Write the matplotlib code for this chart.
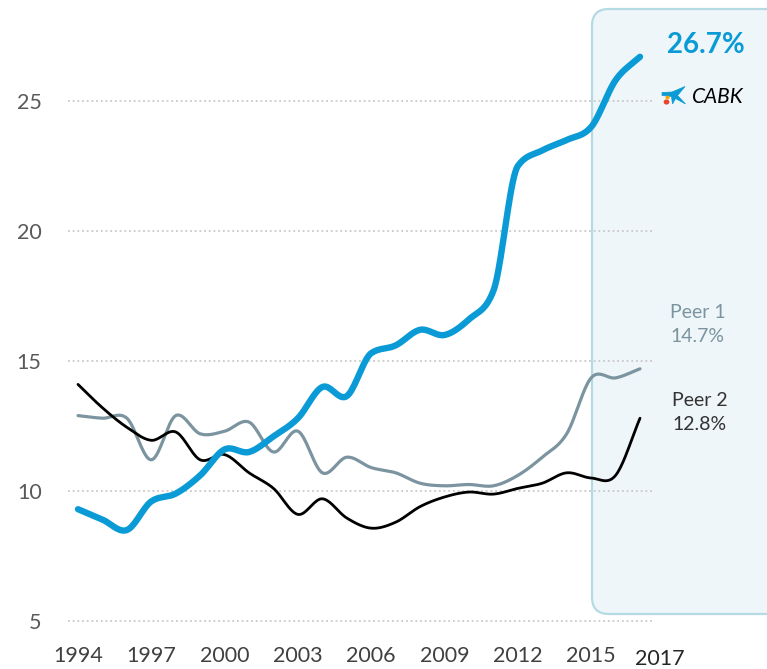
import numpy as np
import matplotlib
matplotlib.use("Agg")
import matplotlib.pyplot as plt
from matplotlib.patches import FancyBboxPatch, Circle, Polygon
from matplotlib.transforms import ScaledTranslation

plt.rcParams['font.family'] = ['Lato', 'DejaVu Sans']

years = list(range(1994, 2018))
cabk = [9.3, 8.9, 8.5, 9.6, 9.9, 10.6, 11.6, 11.5, 12.1, 12.8, 14.0, 13.65,
        15.3, 15.6, 16.2, 16.0, 16.6, 17.7, 22.5, 23.1, 23.5, 24.0, 25.8, 26.7]
peer1 = [12.9, 12.8, 12.8, 11.2, 12.9, 12.2, 12.3, 12.65, 11.5, 12.3, 10.7, 11.3,
         10.9, 10.7, 10.3, 10.2, 10.25, 10.2, 10.6, 11.3, 12.2, 14.35, 14.35, 14.7]
peer2 = [14.1, 13.2, 12.45, 11.95, 12.27, 11.2, 11.4, 10.7, 10.1, 9.1, 9.7, 8.96,
         8.57, 8.8, 9.4, 9.77, 9.96, 9.88, 10.1, 10.3, 10.7, 10.5, 10.6, 12.8]
yticks = [5, 10, 15, 20, 25]
xticks = [1994, 1997, 2000, 2003, 2006, 2009, 2012, 2015]
last_label = "2017"

BLUE = '#0A9BD6'
GREY = '#7B949F'


def smooth(x, y, n=20, limit=False):
    x = np.asarray(x, float)
    y = np.asarray(y, float)
    d = np.diff(y)
    m = np.zeros_like(y)
    m[1:-1] = (y[2:] - y[:-2]) / 2.0
    m[0] = d[0]
    m[-1] = d[-1]
    if limit:
        for i in range(1, len(y) - 1):
            if d[i - 1] * d[i] > 0:
                lim = 2.2 * min(abs(d[i - 1]), abs(d[i]))
                if abs(m[i]) > lim:
                    m[i] = np.sign(m[i]) * lim
    xs, ys = [], []
    for i in range(len(x) - 1):
        t = np.linspace(0, 1, n, endpoint=False)
        h00 = 2 * t**3 - 3 * t**2 + 1
        h10 = t**3 - 2 * t**2 + t
        h01 = -2 * t**3 + 3 * t**2
        h11 = t**3 - t**2
        xs.append(x[i] + t * (x[i + 1] - x[i]))
        ys.append(h00 * y[i] + h10 * m[i] + h01 * y[i + 1] + h11 * m[i + 1])
    xs.append([x[-1]])
    ys.append([y[-1]])
    return np.concatenate(xs), np.concatenate(ys)


W, H = 767, 669
fig = plt.figure(figsize=(W / 100, H / 100), dpi=100)


def fx(px):
    return px / W


def fy(py):
    return 1 - py / H


# shaded box
box = FancyBboxPatch((fx(592), fy(614)), fx(767 + 30) - fx(592), fy(9) - fy(614),
                     boxstyle="round,pad=0,rounding_size=0.022",
                     transform=fig.transFigure, facecolor='#EEF6F9',
                     edgecolor='#B5DAE4', linewidth=1.6, zorder=-5,
                     mutation_aspect=W / H)
fig.patches.append(box)

left, right = 68, 652
ax = fig.add_axes([fx(left), fy(642), fx(right) - fx(left), fy(0) - fy(642)])
ax.patch.set_visible(False)
ppy = (640 - 78) / 23.0
ax.set_xlim(1994 - (78 - left) / ppy, 2017 + (right - 640) / ppy)
ax.set_ylim(5 - (642 - 621) / 26.0, 5 + 621 / 26.0)

for v in yticks:
    ax.axhline(v, color='#C9C9C9', lw=1.3, ls=(0, (1, 1.6)), zorder=1)

xs, ys = smooth(years, peer1)
ax.plot(xs, ys, color=GREY, lw=2.3, zorder=3, solid_capstyle='round')
xs, ys = smooth(years, peer2)
ax.plot(xs, ys, color='black', lw=2.0, zorder=4, solid_capstyle='round')
xs, ys = smooth(years, cabk, limit=True)
ax.plot(xs, ys, color=BLUE, lw=4.6, zorder=5, solid_capstyle='round')

for s in ax.spines.values():
    s.set_visible(False)
ax.tick_params(length=0)
ax.set_yticks(yticks)
ax.set_yticklabels([str(v) for v in yticks], fontsize=15.5, color='#595959')
ax.tick_params(axis='y', pad=19)
ax.set_xticks(xticks)
ax.set_xticklabels([str(v) for v in xticks], fontsize=15.5, color='#404040')
ax.tick_params(axis='x', pad=3)
ax.text(2017, 0, last_label, transform=ax.get_xaxis_transform() +
        ScaledTranslation(20 / 100, -7 / 100, fig.dpi_scale_trans),
        ha='center', va='top', fontsize=15.5, color='#262626')

# annotations
fig.text(fx(706), fy(45), "26.7%", color=BLUE, fontsize=20, fontweight='bold',
         ha='center', va='center')
fig.text(fx(692), fy(97), "CABK", color='black', fontsize=15, fontstyle='italic',
         ha='left', va='center')
fig.text(fx(670), fy(312), "Peer 1", color=GREY, fontsize=14, ha='left', va='center')
fig.text(fx(670), fy(336), "14.7%", color=GREY, fontsize=14, ha='left', va='center')
fig.text(fx(672), fy(400), "Peer 2", color='#333333', fontsize=14, ha='left', va='center')
fig.text(fx(672), fy(424), "12.8%", color='#333333', fontsize=14, ha='left', va='center')

# logo (star shape)
star = [(662, 92.5), (672, 92), (685, 86.5), (677.5, 95.5), (685.5, 104),
        (675.5, 98.5), (672.5, 104), (671.5, 96.5), (662, 95.5)]
fig.add_artist(Polygon([(fx(a), fy(b)) for a, b in star], closed=True,
                       facecolor=BLUE, edgecolor=BLUE, lw=0.5,
                       transform=fig.transFigure))
fig.add_artist(Circle((fx(666.5), fy(102)), 0.0028, color='#E8442C',
                      transform=fig.transFigure))
fig.add_artist(Circle((fx(667.5), fy(97.5)), 0.0018, color='#F5A800',
                      transform=fig.transFigure))

fig.savefig("out.png", dpi=100)
